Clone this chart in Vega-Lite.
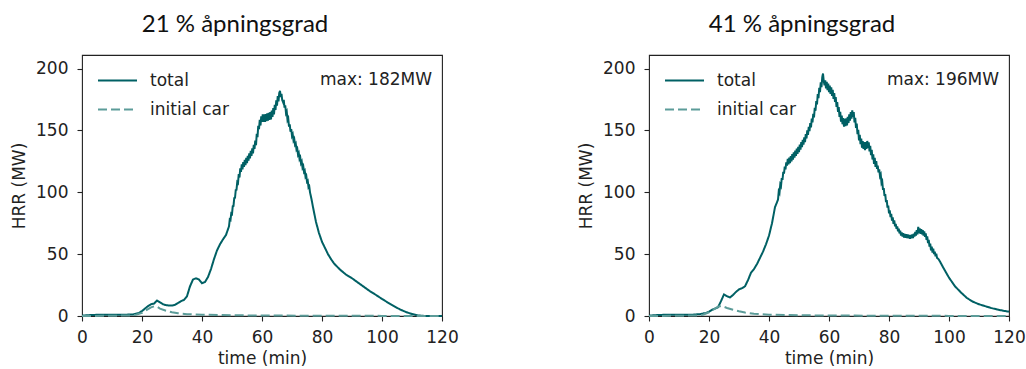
{
  "$schema": "https://vega.github.io/schema/vega-lite/v6.json",
  "padding": {"left": 10, "top": 12, "right": 0, "bottom": 0},
  "datasets": {
    "a21": [
      {"t":0,"v":0.3,"s":"total"},{"t":3,"v":0.8,"s":"total"},{"t":6,"v":1,"s":"total"},{"t":10,"v":1,"s":"total"},{"t":14,"v":1,"s":"total"},{"t":17,"v":1.3,"s":"total"},{"t":19,"v":2.5,"s":"total"},{"t":20,"v":4,"s":"total"},{"t":21,"v":6,"s":"total"},{"t":22,"v":8,"s":"total"},{"t":23,"v":9.5,"s":"total"},{"t":24,"v":10,"s":"total"},{"t":25,"v":12.5,"s":"total"},{"t":26,"v":11,"s":"total"},{"t":27,"v":9.5,"s":"total"},{"t":28,"v":8.8,"s":"total"},{"t":29,"v":8.5,"s":"total"},{"t":30,"v":8.5,"s":"total"},{"t":31,"v":9,"s":"total"},{"t":32,"v":10.5,"s":"total"},{"t":33,"v":12,"s":"total"},{"t":34,"v":13,"s":"total"},{"t":35,"v":16,"s":"total"},{"t":36,"v":24,"s":"total"},{"t":37,"v":29.5,"s":"total"},{"t":38,"v":30.5,"s":"total"},{"t":39,"v":29.5,"s":"total"},{"t":40,"v":26.5,"s":"total"},{"t":41,"v":27.5,"s":"total"},{"t":42,"v":31.5,"s":"total"},{"t":43,"v":38,"s":"total"},{"t":44,"v":46,"s":"total"},{"t":45,"v":53,"s":"total"},{"t":46,"v":58,"s":"total"},{"t":47,"v":62,"s":"total"},{"t":48,"v":65.5,"s":"total"},
      {"t":49,"v":72.5,"s":"total"},{"t":49.25,"v":78,"s":"total"},{"t":49.5,"v":77.5,"s":"total"},{"t":49.75,"v":83,"s":"total"},{"t":50,"v":82.5,"s":"total"},{"t":50.25,"v":88.8,"s":"total"},{"t":50.5,"v":89,"s":"total"},{"t":50.75,"v":95.3,"s":"total"},{"t":51,"v":95.5,"s":"total"},{"t":51.25,"v":101.8,"s":"total"},{"t":51.5,"v":102,"s":"total"},{"t":51.75,"v":108.3,"s":"total"},{"t":52,"v":107.5,"s":"total"},{"t":52.25,"v":114.8,"s":"total"},{"t":52.5,"v":112,"s":"total"},{"t":52.75,"v":119.3,"s":"total"},{"t":53,"v":116.5,"s":"total"},{"t":53.25,"v":122.5,"s":"total"},{"t":53.5,"v":118.5,"s":"total"},{"t":53.75,"v":124.5,"s":"total"},{"t":54,"v":120.5,"s":"total"},{"t":54.25,"v":126.3,"s":"total"},{"t":54.5,"v":122,"s":"total"},{"t":54.75,"v":127.8,"s":"total"},{"t":55,"v":123.5,"s":"total"},{"t":55.25,"v":129.5,"s":"total"},{"t":55.5,"v":125.5,"s":"total"},{"t":55.75,"v":131.5,"s":"total"},{"t":56,"v":127.5,"s":"total"},{"t":56.25,"v":133.5,"s":"total"},{"t":56.5,"v":129.5,"s":"total"},{"t":56.75,"v":135.5,"s":"total"},{"t":57,"v":131.5,"s":"total"},{"t":57.25,"v":138.3,"s":"total"},{"t":57.5,"v":135,"s":"total"},{"t":57.75,"v":141.8,"s":"total"},{"t":58,"v":138,"s":"total"},{"t":58.25,"v":147.3,"s":"total"},{"t":58.5,"v":144.5,"s":"total"},{"t":58.75,"v":153.8,"s":"total"},{"t":59,"v":151,"s":"total"},{"t":59.25,"v":158.5,"s":"total"},{"t":59.5,"v":154,"s":"total"},{"t":59.75,"v":161.5,"s":"total"},{"t":60,"v":157,"s":"total"},{"t":60.25,"v":163,"s":"total"},{"t":60.5,"v":157,"s":"total"},{"t":60.75,"v":163,"s":"total"},{"t":61,"v":157,"s":"total"},{"t":61.25,"v":163.3,"s":"total"},{"t":61.5,"v":157.5,"s":"total"},{"t":61.75,"v":163.8,"s":"total"},{"t":62,"v":158,"s":"total"},{"t":62.25,"v":164.3,"s":"total"},{"t":62.5,"v":158.5,"s":"total"},{"t":62.75,"v":164.8,"s":"total"},{"t":63,"v":159,"s":"total"},{"t":63.25,"v":166,"s":"total"},{"t":63.5,"v":161,"s":"total"},{"t":63.75,"v":168,"s":"total"},{"t":64,"v":163,"s":"total"},{"t":64.25,"v":170.8,"s":"total"},{"t":64.5,"v":166.5,"s":"total"},{"t":64.75,"v":174.3,"s":"total"},{"t":65,"v":170,"s":"total"},{"t":65.25,"v":177.8,"s":"total"},{"t":65.5,"v":173.5,"s":"total"},{"t":65.75,"v":180.3,"s":"total"},{"t":66,"v":182,"s":"total"},{"t":66.25,"v":177,"s":"total"},{"t":66.5,"v":179.5,"s":"total"},{"t":66.75,"v":174.5,"s":"total"},{"t":67,"v":173,"s":"total"},{"t":67.25,"v":174.8,"s":"total"},{"t":67.5,"v":168.5,"s":"total"},{"t":67.75,"v":170.3,"s":"total"},{"t":68,"v":164,"s":"total"},{"t":68.25,"v":165.3,"s":"total"},{"t":68.5,"v":158.5,"s":"total"},{"t":68.75,"v":159.8,"s":"total"},{"t":69,"v":153,"s":"total"},{"t":69.25,"v":155,"s":"total"},{"t":69.5,"v":149,"s":"total"},{"t":69.75,"v":151,"s":"total"},{"t":70,"v":145.5,"s":"total"},{"t":70.25,"v":146.8,"s":"total"},{"t":70.5,"v":142,"s":"total"},{"t":70.75,"v":143.3,"s":"total"},{"t":71,"v":138.5,"s":"total"},{"t":71.25,"v":139.5,"s":"total"},{"t":71.5,"v":134.5,"s":"total"},{"t":71.75,"v":135.5,"s":"total"},{"t":72,"v":130.5,"s":"total"},{"t":72.25,"v":131.8,"s":"total"},{"t":72.5,"v":127,"s":"total"},{"t":72.75,"v":128.3,"s":"total"},{"t":73,"v":123.5,"s":"total"},{"t":73.25,"v":124.8,"s":"total"},{"t":73.5,"v":120,"s":"total"},{"t":73.75,"v":121.3,"s":"total"},{"t":74,"v":116.5,"s":"total"},{"t":74.25,"v":117.5,"s":"total"},{"t":74.5,"v":112.5,"s":"total"},{"t":74.75,"v":113.5,"s":"total"},{"t":75,"v":108.5,"s":"total"},{"t":75.25,"v":109.3,"s":"total"},{"t":75.5,"v":104,"s":"total"},{"t":75.75,"v":104.8,"s":"total"},{"t":76,"v":100,"s":"total"},{"t":76.5,"v":94.5,"s":"total"},{"t":77,"v":88,"s":"total"},
      {"t":78,"v":76,"s":"total"},{"t":79,"v":67,"s":"total"},{"t":80,"v":60,"s":"total"},{"t":81,"v":55,"s":"total"},{"t":82,"v":50,"s":"total"},{"t":83,"v":46,"s":"total"},{"t":84,"v":42.5,"s":"total"},{"t":86,"v":37.5,"s":"total"},{"t":88,"v":33.5,"s":"total"},{"t":90,"v":30.5,"s":"total"},{"t":92,"v":27,"s":"total"},{"t":94,"v":23.5,"s":"total"},{"t":96,"v":20,"s":"total"},{"t":98,"v":17,"s":"total"},{"t":100,"v":13.8,"s":"total"},{"t":102,"v":10.8,"s":"total"},{"t":104,"v":8,"s":"total"},{"t":106,"v":5.3,"s":"total"},{"t":108,"v":3.2,"s":"total"},{"t":110,"v":1.6,"s":"total"},{"t":112,"v":0.5,"s":"total"},{"t":114,"v":0.1,"s":"total"},{"t":117,"v":0,"s":"total"},{"t":120,"v":0,"s":"total"},
      {"t":0,"v":0,"s":"initial car"},{"t":10,"v":0.2,"s":"initial car"},{"t":16,"v":0.5,"s":"initial car"},{"t":18,"v":1,"s":"initial car"},{"t":20,"v":2.5,"s":"initial car"},{"t":22,"v":5.5,"s":"initial car"},{"t":23,"v":7,"s":"initial car"},{"t":24,"v":7.8,"s":"initial car"},{"t":25,"v":7.5,"s":"initial car"},{"t":26,"v":6,"s":"initial car"},{"t":28,"v":4.3,"s":"initial car"},{"t":30,"v":3,"s":"initial car"},{"t":32,"v":2.2,"s":"initial car"},{"t":35,"v":1.5,"s":"initial car"},{"t":40,"v":1,"s":"initial car"},{"t":50,"v":0.6,"s":"initial car"},{"t":60,"v":0.4,"s":"initial car"},{"t":80,"v":0.2,"s":"initial car"},{"t":100,"v":0.1,"s":"initial car"},{"t":120,"v":0,"s":"initial car"}
    ],
    "a41": [
      {"t":0,"v":0.3,"s":"total"},{"t":3,"v":0.8,"s":"total"},{"t":6,"v":1,"s":"total"},{"t":10,"v":1,"s":"total"},{"t":14,"v":1,"s":"total"},{"t":17,"v":1.5,"s":"total"},{"t":19,"v":2.5,"s":"total"},{"t":20,"v":3.5,"s":"total"},{"t":21,"v":5,"s":"total"},{"t":22,"v":6,"s":"total"},{"t":23,"v":7,"s":"total"},{"t":24,"v":12,"s":"total"},{"t":25,"v":17.5,"s":"total"},{"t":26,"v":16,"s":"total"},{"t":27,"v":15,"s":"total"},{"t":28,"v":17,"s":"total"},{"t":29,"v":19.5,"s":"total"},{"t":30,"v":21.5,"s":"total"},{"t":31,"v":22.5,"s":"total"},{"t":32,"v":24,"s":"total"},{"t":33,"v":29,"s":"total"},{"t":34,"v":35,"s":"total"},{"t":35,"v":38,"s":"total"},{"t":36,"v":42,"s":"total"},{"t":37,"v":47,"s":"total"},{"t":38,"v":52,"s":"total"},{"t":39,"v":58,"s":"total"},{"t":40,"v":65,"s":"total"},{"t":41,"v":75,"s":"total"},{"t":42,"v":88,"s":"total"},
      {"t":43,"v":94,"s":"total"},{"t":43.25,"v":100.8,"s":"total"},{"t":43.5,"v":99.5,"s":"total"},{"t":43.75,"v":106.3,"s":"total"},{"t":44,"v":105,"s":"total"},{"t":44.25,"v":111.5,"s":"total"},{"t":44.5,"v":110,"s":"total"},{"t":44.75,"v":116.5,"s":"total"},{"t":45,"v":115,"s":"total"},{"t":45.25,"v":120.8,"s":"total"},{"t":45.5,"v":118.5,"s":"total"},{"t":45.75,"v":124.3,"s":"total"},{"t":46,"v":121.5,"s":"total"},{"t":46.25,"v":127,"s":"total"},{"t":46.5,"v":122.5,"s":"total"},{"t":46.75,"v":128,"s":"total"},{"t":47,"v":123.5,"s":"total"},{"t":47.25,"v":129.3,"s":"total"},{"t":47.5,"v":125,"s":"total"},{"t":47.75,"v":130.8,"s":"total"},{"t":48,"v":126.5,"s":"total"},{"t":48.25,"v":132.3,"s":"total"},{"t":48.5,"v":128,"s":"total"},{"t":48.75,"v":133.8,"s":"total"},{"t":49,"v":129.5,"s":"total"},{"t":49.25,"v":135.3,"s":"total"},{"t":49.5,"v":131,"s":"total"},{"t":49.75,"v":136.8,"s":"total"},{"t":50,"v":132.5,"s":"total"},{"t":50.25,"v":138.5,"s":"total"},{"t":50.5,"v":134.5,"s":"total"},{"t":50.75,"v":140.5,"s":"total"},{"t":51,"v":136.5,"s":"total"},{"t":51.25,"v":142.5,"s":"total"},{"t":51.5,"v":138.5,"s":"total"},{"t":51.75,"v":144.5,"s":"total"},{"t":52,"v":140.5,"s":"total"},{"t":52.25,"v":147,"s":"total"},{"t":52.5,"v":143.5,"s":"total"},{"t":52.75,"v":150,"s":"total"},{"t":53,"v":146.5,"s":"total"},{"t":53.25,"v":153,"s":"total"},{"t":53.5,"v":149.5,"s":"total"},{"t":53.75,"v":156,"s":"total"},{"t":54,"v":152.5,"s":"total"},{"t":54.25,"v":159.5,"s":"total"},{"t":54.5,"v":156.5,"s":"total"},{"t":54.75,"v":163.5,"s":"total"},{"t":55,"v":160.5,"s":"total"},{"t":55.25,"v":168.3,"s":"total"},{"t":55.5,"v":166,"s":"total"},{"t":55.75,"v":173.8,"s":"total"},{"t":56,"v":171,"s":"total"},{"t":56.25,"v":179.5,"s":"total"},{"t":56.5,"v":176,"s":"total"},{"t":56.75,"v":184.5,"s":"total"},{"t":57,"v":181,"s":"total"},{"t":57.25,"v":189,"s":"total"},{"t":57.5,"v":185,"s":"total"},{"t":57.75,"v":193,"s":"total"},{"t":58,"v":196,"s":"total"},{"t":58.25,"v":190,"s":"total"},{"t":58.5,"v":186.5,"s":"total"},{"t":58.75,"v":190.5,"s":"total"},{"t":59,"v":184,"s":"total"},{"t":59.25,"v":189.3,"s":"total"},{"t":59.5,"v":182.5,"s":"total"},{"t":59.75,"v":187.8,"s":"total"},{"t":60,"v":181,"s":"total"},{"t":60.25,"v":186.3,"s":"total"},{"t":60.5,"v":179.5,"s":"total"},{"t":60.75,"v":184.8,"s":"total"},{"t":61,"v":178,"s":"total"},{"t":61.25,"v":182.8,"s":"total"},{"t":61.5,"v":175.5,"s":"total"},{"t":61.75,"v":180.3,"s":"total"},{"t":62,"v":173,"s":"total"},{"t":62.25,"v":177,"s":"total"},{"t":62.5,"v":169,"s":"total"},{"t":62.75,"v":173,"s":"total"},{"t":63,"v":165,"s":"total"},{"t":63.25,"v":169,"s":"total"},{"t":63.5,"v":161,"s":"total"},{"t":63.75,"v":165,"s":"total"},{"t":64,"v":157,"s":"total"},{"t":64.25,"v":162,"s":"total"},{"t":64.5,"v":155,"s":"total"},{"t":64.75,"v":160,"s":"total"},{"t":65,"v":153,"s":"total"},{"t":65.25,"v":159.3,"s":"total"},{"t":65.5,"v":153.5,"s":"total"},{"t":65.75,"v":159.8,"s":"total"},{"t":66,"v":154,"s":"total"},{"t":66.25,"v":161,"s":"total"},{"t":66.5,"v":156,"s":"total"},{"t":66.75,"v":163,"s":"total"},{"t":67,"v":158,"s":"total"},{"t":67.25,"v":164.8,"s":"total"},{"t":67.5,"v":159.5,"s":"total"},{"t":67.75,"v":166.3,"s":"total"},{"t":68,"v":161,"s":"total"},{"t":68.25,"v":164.8,"s":"total"},{"t":68.5,"v":156.5,"s":"total"},{"t":68.75,"v":160.3,"s":"total"},{"t":69,"v":152,"s":"total"},{"t":69.25,"v":155.5,"s":"total"},{"t":69.5,"v":147,"s":"total"},{"t":69.75,"v":150.5,"s":"total"},{"t":70,"v":142,"s":"total"},{"t":70.25,"v":146.5,"s":"total"},{"t":70.5,"v":139,"s":"total"},{"t":70.75,"v":143.5,"s":"total"},{"t":71,"v":136,"s":"total"},{"t":71.25,"v":141.5,"s":"total"},{"t":71.5,"v":135,"s":"total"},{"t":71.75,"v":140.5,"s":"total"},{"t":72,"v":134,"s":"total"},{"t":72.25,"v":140.5,"s":"total"},{"t":72.5,"v":135,"s":"total"},{"t":72.75,"v":141.5,"s":"total"},{"t":73,"v":136,"s":"total"},{"t":73.25,"v":140.5,"s":"total"},{"t":73.5,"v":133,"s":"total"},{"t":73.75,"v":137.5,"s":"total"},{"t":74,"v":130,"s":"total"},{"t":74.25,"v":134.3,"s":"total"},{"t":74.5,"v":126.5,"s":"total"},{"t":74.75,"v":130.8,"s":"total"},{"t":75,"v":123,"s":"total"},{"t":75.25,"v":127.8,"s":"total"},{"t":75.5,"v":120.5,"s":"total"},{"t":75.75,"v":125.3,"s":"total"},{"t":76,"v":119,"s":"total"},{"t":76.25,"v":121.5,"s":"total"},{"t":76.5,"v":116,"s":"total"},{"t":76.75,"v":118.5,"s":"total"},{"t":77,"v":113,"s":"total"},{"t":77.25,"v":114.3,"s":"total"},{"t":77.5,"v":107.5,"s":"total"},{"t":77.75,"v":108.8,"s":"total"},{"t":78,"v":102,"s":"total"},{"t":78.25,"v":103.5,"s":"total"},{"t":78.5,"v":97,"s":"total"},{"t":78.75,"v":98.5,"s":"total"},{"t":79,"v":92,"s":"total"},{"t":79.25,"v":93.8,"s":"total"},{"t":79.5,"v":87.5,"s":"total"},{"t":79.75,"v":89.3,"s":"total"},{"t":80,"v":83,"s":"total"},{"t":80.25,"v":85.5,"s":"total"},{"t":80.5,"v":80,"s":"total"},{"t":80.75,"v":82.5,"s":"total"},{"t":81,"v":77,"s":"total"},{"t":81.25,"v":79.8,"s":"total"},{"t":81.5,"v":74.5,"s":"total"},{"t":81.75,"v":77.3,"s":"total"},{"t":82,"v":72.5,"s":"total"},{"t":82.25,"v":74.5,"s":"total"},{"t":82.5,"v":70.5,"s":"total"},{"t":82.75,"v":72.5,"s":"total"},{"t":83,"v":68.5,"s":"total"},{"t":83.25,"v":70.6,"s":"total"},{"t":83.5,"v":66.8,"s":"total"},{"t":83.75,"v":68.9,"s":"total"},{"t":84,"v":65,"s":"total"},{"t":84.25,"v":67.6,"s":"total"},{"t":84.5,"v":64.3,"s":"total"},{"t":84.75,"v":66.9,"s":"total"},{"t":85,"v":63.5,"s":"total"},{"t":85.25,"v":66.4,"s":"total"},{"t":85.5,"v":63.3,"s":"total"},{"t":85.75,"v":66.1,"s":"total"},{"t":86,"v":63,"s":"total"},{"t":86.25,"v":65.9,"s":"total"},{"t":86.5,"v":62.8,"s":"total"},{"t":86.75,"v":65.6,"s":"total"},{"t":87,"v":62.5,"s":"total"},{"t":87.25,"v":65.6,"s":"total"},{"t":87.5,"v":62.8,"s":"total"},{"t":87.75,"v":65.9,"s":"total"},{"t":88,"v":63,"s":"total"},{"t":88.25,"v":66.6,"s":"total"},{"t":88.5,"v":64.3,"s":"total"},{"t":88.75,"v":67.9,"s":"total"},{"t":89,"v":65,"s":"total"},{"t":89.25,"v":69.5,"s":"total"},{"t":89.5,"v":66,"s":"total"},{"t":89.75,"v":72,"s":"total"},{"t":90,"v":67,"s":"total"},{"t":90.25,"v":70.8,"s":"total"},{"t":90.5,"v":66.5,"s":"total"},{"t":90.75,"v":70.3,"s":"total"},{"t":91,"v":66,"s":"total"},{"t":91.25,"v":69.5,"s":"total"},{"t":91.5,"v":65,"s":"total"},{"t":91.75,"v":68.5,"s":"total"},{"t":92,"v":64,"s":"total"},{"t":92.25,"v":66.8,"s":"total"},{"t":92.5,"v":61.5,"s":"total"},{"t":92.75,"v":64.3,"s":"total"},{"t":93,"v":59,"s":"total"},{"t":93.25,"v":61.5,"s":"total"},{"t":93.5,"v":56,"s":"total"},{"t":93.75,"v":58.5,"s":"total"},{"t":94,"v":53,"s":"total"},{"t":94.25,"v":56.1,"s":"total"},{"t":94.5,"v":51.3,"s":"total"},{"t":94.75,"v":54.4,"s":"total"},{"t":95,"v":50,"s":"total"},{"t":95.25,"v":52.1,"s":"total"},{"t":95.5,"v":48.3,"s":"total"},{"t":95.75,"v":50.4,"s":"total"},{"t":96,"v":47,"s":"total"},{"t":96.5,"v":46,"s":"total"},{"t":97,"v":44,"s":"total"},
      {"t":98,"v":39.5,"s":"total"},{"t":100,"v":31,"s":"total"},{"t":102,"v":24,"s":"total"},{"t":104,"v":19,"s":"total"},{"t":106,"v":14.5,"s":"total"},{"t":108,"v":11.5,"s":"total"},{"t":110,"v":9.5,"s":"total"},{"t":112,"v":8,"s":"total"},{"t":114,"v":6.5,"s":"total"},{"t":116,"v":5.3,"s":"total"},{"t":118,"v":4.3,"s":"total"},{"t":120,"v":3.5,"s":"total"},
      {"t":0,"v":0,"s":"initial car"},{"t":10,"v":0.2,"s":"initial car"},{"t":16,"v":0.5,"s":"initial car"},{"t":18,"v":1,"s":"initial car"},{"t":20,"v":3,"s":"initial car"},{"t":22,"v":6,"s":"initial car"},{"t":23,"v":7.5,"s":"initial car"},{"t":24,"v":8.2,"s":"initial car"},{"t":25,"v":7.5,"s":"initial car"},{"t":26,"v":6.5,"s":"initial car"},{"t":28,"v":5,"s":"initial car"},{"t":30,"v":3.8,"s":"initial car"},{"t":32,"v":2.8,"s":"initial car"},{"t":35,"v":1.8,"s":"initial car"},{"t":40,"v":1,"s":"initial car"},{"t":50,"v":0.6,"s":"initial car"},{"t":60,"v":0.4,"s":"initial car"},{"t":80,"v":0.2,"s":"initial car"},{"t":100,"v":0.1,"s":"initial car"},{"t":120,"v":0,"s":"initial car"}
    ]
  },
  "config": {
    "font": "DejaVu Sans",
    "view": {"stroke": "#222", "strokeWidth": 1.1},
    "axis": {"grid": false, "domain": false, "labelFlush": false, "tickColor": "#222", "tickSize": 5, "tickWidth": 1.1, "labelFontSize": 17, "titleFontSize": 17, "titleFontWeight": "normal", "labelColor": "#222", "titleColor": "#222", "labelFont": "DejaVu Sans", "titleFont": "DejaVu Sans"},
    "axisX": {"labelPadding": 8, "titlePadding": 5},
    "axisY": {"labelPadding": 9, "titlePadding": 7},
    "title": {"font": "Lato", "fontSize": 24, "fontWeight": "normal", "color": "#111", "anchor": "middle", "dx": -27, "offset": 18},
    "legend": {"orient": "none", "legendX": 15, "legendY": 5, "symbolType": "stroke", "symbolSize": 1521, "symbolStrokeWidth": 2, "labelFontSize": 17, "labelFont": "DejaVu Sans", "labelColor": "#222", "labelOffset": 12, "rowPadding": -7, "padding": 0},
    "concat": {"spacing": 207}
  },
  "bounds": "flush",
  "resolve": {"legend": {"color": "independent", "strokeDash": "independent"}},
  "hconcat": [
    {
      "title": "21 % åpningsgrad",
      "width": 360, "height": 261,
      "layer": [
        {
          "data": {"name": "a21"},
          "mark": {"type": "line", "strokeWidth": 2},
          "encoding": {
            "x": {"field": "t", "type": "quantitative", "scale": {"domain": [0, 120], "nice": false}, "axis": {"values": [0, 20, 40, 60, 80, 100, 120], "title": "time (min)"}},
            "y": {"field": "v", "type": "quantitative", "scale": {"domain": [0, 211], "nice": false}, "axis": {"values": [0, 50, 100, 150, 200], "title": "HRR (MW)"}},
            "color": {"field": "s", "type": "nominal", "scale": {"domain": ["total", "initial car"], "range": ["#006064", "#5c9c99"]}, "legend": {"title": null}},
            "strokeDash": {"field": "s", "type": "nominal", "scale": {"domain": ["total", "initial car"], "range": [[1, 0], [9, 4]]}, "legend": {"title": null}}
          }
        },
        {
          "data": {"values": [{"label": "max: 182MW"}]},
          "mark": {"type": "text", "align": "right", "baseline": "middle", "dx": -10, "fontSize": 17, "color": "#222", "font": "DejaVu Sans"},
          "encoding": {"x": {"datum": 120}, "y": {"datum": 191}, "text": {"field": "label"}}
        }
      ]
    },
    {
      "title": "41 % åpningsgrad",
      "width": 360, "height": 261,
      "layer": [
        {
          "data": {"name": "a41"},
          "mark": {"type": "line", "strokeWidth": 2},
          "encoding": {
            "x": {"field": "t", "type": "quantitative", "scale": {"domain": [0, 120], "nice": false}, "axis": {"values": [0, 20, 40, 60, 80, 100, 120], "title": "time (min)"}},
            "y": {"field": "v", "type": "quantitative", "scale": {"domain": [0, 211], "nice": false}, "axis": {"values": [0, 50, 100, 150, 200], "title": "HRR (MW)"}},
            "color": {"field": "s", "type": "nominal", "scale": {"domain": ["total", "initial car"], "range": ["#006064", "#5c9c99"]}, "legend": {"title": null}},
            "strokeDash": {"field": "s", "type": "nominal", "scale": {"domain": ["total", "initial car"], "range": [[1, 0], [9, 4]]}, "legend": {"title": null}}
          }
        },
        {
          "data": {"values": [{"label": "max: 196MW"}]},
          "mark": {"type": "text", "align": "right", "baseline": "middle", "dx": -10, "fontSize": 17, "color": "#222", "font": "DejaVu Sans"},
          "encoding": {"x": {"datum": 120}, "y": {"datum": 191}, "text": {"field": "label"}}
        }
      ]
    }
  ]
}
